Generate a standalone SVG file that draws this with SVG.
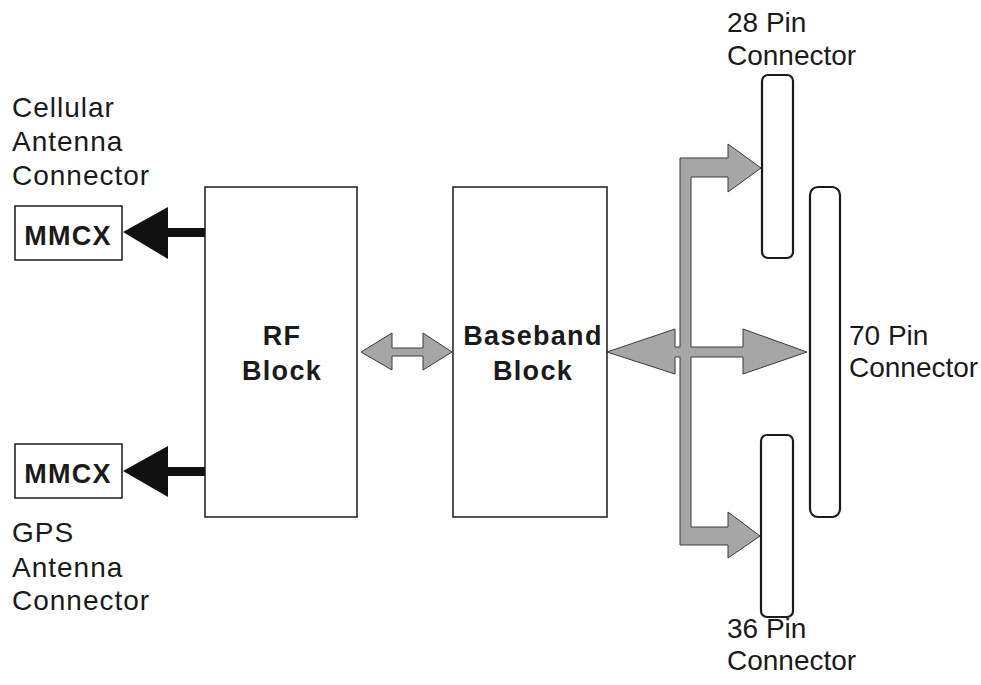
<svg xmlns="http://www.w3.org/2000/svg" width="981" height="685" viewBox="0 0 981 685">
<style>
.lbl{font-family:"Liberation Sans",Arial,sans-serif;font-size:28px;fill:#1a1a1a}
.lw{letter-spacing:1px}
.bold{font-family:"Liberation Sans",Arial,sans-serif;font-size:27px;font-weight:bold;fill:#1a1a1a;letter-spacing:1.3px}
.box{fill:#fff;stroke:#1a1a1a;stroke-width:1.5}
.conn{fill:#fff;stroke:#1a1a1a;stroke-width:2.2}
.gray{fill:#a6a6a6;stroke:#3a3a3a;stroke-width:1}
.blk{fill:#111;stroke:none}
</style>
<rect width="981" height="685" fill="#fff"/>
<g id="connectors">
  <path class="blk" d="M123,232 L168,207 L168,228 L205,228 L205,237 L168,237 L168,259 Z"/>
  <path class="blk" d="M123,471 L168,446 L168,467 L205,467 L205,476 L168,476 L168,497 Z"/>
  <path class="gray" d="M361,352 L392,333 L392,348 L423,348 L423,333 L452,352 L423,370 L423,356 L392,356 L392,370 Z"/>
  <path class="gray" d="M680,158 L728,158 L728,144 L761,168 L728,192 L728,177 L691,177 L691,527 L728,527 L728,512 L760,536 L728,558 L728,545 L680,545 Z"/>
  <path class="gray" d="M607,352 L675,329 L675,347 L743,347 L743,329 L807,352 L743,374 L743,357 L675,357 L675,374 Z"/>
  <rect x="679.5" y="347.6" width="12" height="8.8" fill="#a6a6a6"/>
  <rect x="680.6" y="346" width="9.8" height="12" fill="#a6a6a6"/>
</g>
<g id="mmcx-top">
  <rect class="box" x="15" y="206" width="107" height="54"/>
  <text class="bold" x="68" y="245" text-anchor="middle">MMCX</text>
</g>
<g id="mmcx-bottom">
  <rect class="box" x="15" y="444" width="107" height="54"/>
  <text class="bold" x="68" y="483" text-anchor="middle">MMCX</text>
</g>
<g id="cellular-label">
  <text class="lbl lw" x="12" y="117">Cellular</text>
  <text class="lbl lw" x="12" y="151">Antenna</text>
  <text class="lbl lw" x="12" y="185">Connector</text>
</g>
<g id="gps-label">
  <text class="lbl lw" x="12" y="542">GPS</text>
  <text class="lbl lw" x="12" y="577">Antenna</text>
  <text class="lbl lw" x="12" y="610">Connector</text>
</g>
<g id="rf-block">
  <rect class="box" x="205" y="187" width="152" height="330"/>
  <text class="bold" x="282" y="345" text-anchor="middle">RF</text>
  <text class="bold" x="282" y="380" text-anchor="middle">Block</text>
</g>
<g id="baseband-block">
  <rect class="box" x="453" y="187" width="154" height="330"/>
  <text class="bold" x="533" y="345" text-anchor="middle">Baseband</text>
  <text class="bold" x="533" y="380" text-anchor="middle">Block</text>
</g>
<g id="pin28">
  <rect class="conn" x="762" y="75" width="31" height="183" rx="6"/>
  <text class="lbl" x="727" y="32">28 Pin</text>
  <text class="lbl" x="727" y="65">Connector</text>
</g>
<g id="pin70">
  <rect class="conn" x="810" y="187" width="30" height="330" rx="8"/>
  <text class="lbl" x="849" y="345">70 Pin</text>
  <text class="lbl" x="849" y="377">Connector</text>
</g>
<g id="pin36">
  <rect class="conn" x="761" y="435" width="32" height="182" rx="6"/>
  <text class="lbl" x="727" y="638">36 Pin</text>
  <text class="lbl" x="727" y="670">Connector</text>
</g>
</svg>
